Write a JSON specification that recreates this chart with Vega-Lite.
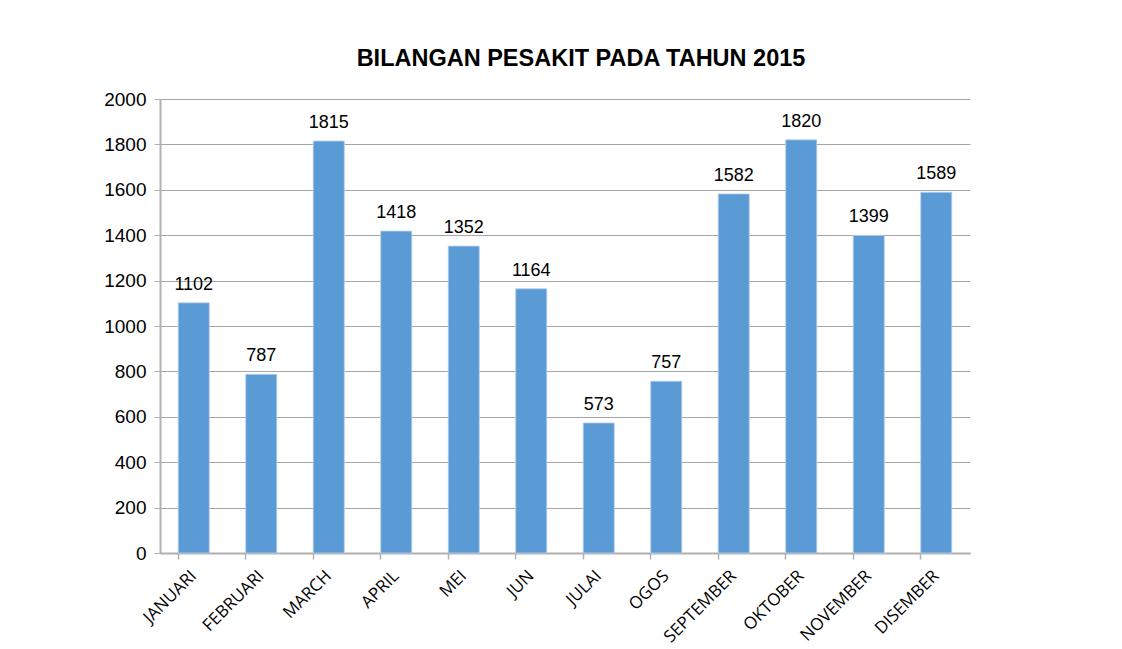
{
  "$schema": "https://vega.github.io/schema/vega-lite/v6.json",
  "autosize": "none",
  "padding": {"left": 160, "top": 99, "right": 152, "bottom": 96},
  "width": 810,
  "height": 454,
  "background": "white",
  "title": {
    "text": "BILANGAN PESAKIT PADA TAHUN 2015",
    "font": "Liberation Sans",
    "fontSize": 23.5,
    "fontWeight": "bold",
    "color": "#000000",
    "anchor": "middle",
    "dx": 16,
    "offset": 20
  },
  "data": {
    "values": [
      {"bulan": "JANUARI", "pesakit": 1102},
      {"bulan": "FEBRUARI", "pesakit": 787},
      {"bulan": "MARCH", "pesakit": 1815},
      {"bulan": "APRIL", "pesakit": 1418},
      {"bulan": "MEI", "pesakit": 1352},
      {"bulan": "JUN", "pesakit": 1164},
      {"bulan": "JULAI", "pesakit": 573},
      {"bulan": "OGOS", "pesakit": 757},
      {"bulan": "SEPTEMBER", "pesakit": 1582},
      {"bulan": "OKTOBER", "pesakit": 1820},
      {"bulan": "NOVEMBER", "pesakit": 1399},
      {"bulan": "DISEMBER", "pesakit": 1589}
    ]
  },
  "encoding": {
    "x": {
      "field": "bulan",
      "type": "nominal",
      "sort": null,
      "scale": {"paddingInner": 0.54, "paddingOuter": 0.27},
      "axis": {
        "title": null,
        "labelAngle": -45,
        "labelFont": "Open Sans",
        "labelFontSize": 17,
        "labelColor": "#000000",
        "labelAlign": "right",
        "labelBaseline": "middle",
        "labelPadding": 14,
        "bandPosition": 0,
        "ticks": true,
        "tickSize": 6,
        "tickColor": "#b0b0b0",
        "domainColor": "#b0b0b0",
        "domainWidth": 2,
        "tickWidth": 1.5,
        "grid": false
      }
    },
    "y": {
      "field": "pesakit",
      "type": "quantitative",
      "scale": {"domain": [0, 2000]},
      "axis": {
        "title": null,
        "format": "d",
        "values": [0, 200, 400, 600, 800, 1000, 1200, 1400, 1600, 1800, 2000],
        "labelFont": "Liberation Sans",
        "labelFontSize": 19,
        "labelColor": "#000000",
        "labelPadding": 8,
        "tickSize": 6,
        "tickColor": "#b0b0b0",
        "domainColor": "#b0b0b0",
        "domainWidth": 2,
        "gridColor": "#a6a6a6",
        "gridWidth": 1
      }
    }
  },
  "layer": [
    {
      "mark": {"type": "bar", "color": "#5b9bd5", "stroke": "#b8d0ea", "strokeWidth": 0.8}
    },
    {
      "mark": {"type": "text", "font": "Liberation Sans", "fontSize": 18, "color": "#000000", "baseline": "bottom", "dy": -9},
      "encoding": {"text": {"field": "pesakit", "type": "quantitative"}}
    }
  ],
  "config": {"view": {"stroke": null}}
}
